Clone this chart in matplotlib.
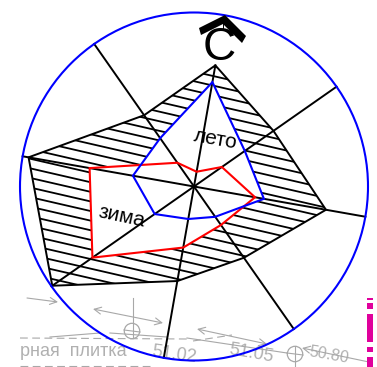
import numpy as np
from matplotlib import pyplot as plt
from matplotlib.patches import Circle, Polygon

plt.rcParams['font.family'] = ['Liberation Sans', 'DejaVu Sans']

# румбы и значения (радиус в пикселях схемы)
angles = [10, 55, 100, 145, 190, 235, 280, 325]
year = [123, 97, 134, 87, 96, 173, 168, 87]
summer = [106, 62, 71, 37, 33, 48, 62, 59]
winter = [15, 34, 62, 47, 62, 124, 106, 29]
spokes = [123, 174, 174, 174, 174, 174, 174, 174]

cx, cy, radius = 194, 186.5, 174
gray = '#a8a8a8'
magenta = '#e0009c'

# подложка чертежа
gray_lines = [
    [(50, 337), (100, 333)],
    [(110, 333), (167, 337)],
    [(133, 298), (133, 338)],
    [(187, 338), (287, 353)],
    [(295, 346), (295, 367)],
]
dashed_lines = [
    [(20, 338), (187, 339)],
    [(193, 341), (232, 335)],
    [(20, 366), (150, 366)],
]
arrows = [
    ((27, 298), (58, 302), '->'),
    ((93, 309), (163, 323), '<->'),
    ((197, 329), (267, 344), '<->'),
    ((302, 348), (369, 362), '<-'),
]
marks = [(132, 331), (295, 354)]
bar_parts = [(298, 300), (303, 309), (314, 342), (347, 352), (357, 367)]
labels = [
    ('рная  плитка', 20, 352, 0, 13),
    ('51.02', 152, 352, -8, 13),
    ('51.05', 229, 350, -10, 13),
    ('50.80', 309, 352, -10, 11.5),
]
chevron = [(199, 28), (225, 15), (246, 36), (242, 43), (223, 24), (201, 35)]


def to_xy(values):
    a = np.radians(angles)
    r = np.array(values)
    return np.column_stack([cx + r * np.sin(a), cy - r * np.cos(a)])


fig = plt.figure(figsize=(3.77, 3.67), dpi=100)
ax = fig.add_axes([0, 0, 1, 1])
ax.set_xlim(0, 377)
ax.set_ylim(367, 0)
ax.axis('off')

for line in gray_lines:
    ax.plot(*zip(*line), color=gray, lw=0.8, zorder=1)
for line in dashed_lines:
    ax.plot(*zip(*line), color=gray, lw=0.8, ls=(0, (7, 4)), zorder=1)
for start, end, style in arrows:
    ax.annotate('', xy=end, xytext=start, zorder=1,
                arrowprops=dict(arrowstyle=style + ',head_length=0.5,head_width=0.25',
                                color=gray, lw=0.8, shrinkA=0, shrinkB=0))
for mx, my in marks:
    ax.add_patch(Circle((mx, my), 7.7, fill=False, ec=gray, lw=0.9, zorder=1))
    ax.plot([mx - 8, mx + 8], [my - 1, my + 1], color=gray, lw=0.8, zorder=1)
for top, bottom in bar_parts:
    ax.fill_between([367, 373], top, bottom, color=magenta, lw=0, zorder=1)
for text, x, y, rot, size in labels:
    ax.text(x, y, text, color=gray, fontsize=size, rotation=rot, rotation_mode='anchor',
            ha='left', va='center', zorder=1, alpha=0.9)

# штриховка внутри годового контура
outline = Polygon(to_xy(year), closed=True, fill=False, ec='black', lw=1.4, zorder=4)
ax.add_patch(outline)
for c in np.arange(171 - 9.6 * 25, 340, 9.6):
    hatch, = ax.plot([0, 377], [c, c + 377 * 0.23], color='black', lw=1.3, zorder=2)
    hatch.set_clip_path(outline)

# внутри летнего и зимнего контуров штриховки нет
ax.add_patch(Polygon(to_xy(winter), closed=True, fc='white', ec='none', zorder=3))
ax.add_patch(Polygon(to_xy(summer), closed=True, fc='white', ec='none', zorder=3))

for x, y in to_xy(spokes):
    ax.plot([cx, x], [cy, y], color='black', lw=1.4, zorder=4)

ax.add_patch(Polygon(to_xy(winter), closed=True, fill=False, ec='#ff0000', lw=1.5, zorder=5))
ax.add_patch(Polygon(to_xy(summer), closed=True, fill=False, ec='#0000ff', lw=1.5, zorder=5))
ax.add_patch(Circle((cx, cy), radius, fill=False, ec='#0000ff', lw=1.5, zorder=6))

ax.text(216, 139, 'лето', fontsize=15, rotation=-10, ha='center', va='center', zorder=7)
ax.text(122, 217, 'зима', fontsize=15, rotation=-12, ha='center', va='center', zorder=7)

# север
ax.text(219, 48, 'С', fontsize=33, ha='center', va='center', zorder=7)
ax.add_patch(Polygon(chevron, closed=True, fc='black', ec='none', zorder=7))
ax.plot([223, 223], [24, 30], color='black', lw=0.7, zorder=7)

plt.savefig('out.png', dpi=100)
